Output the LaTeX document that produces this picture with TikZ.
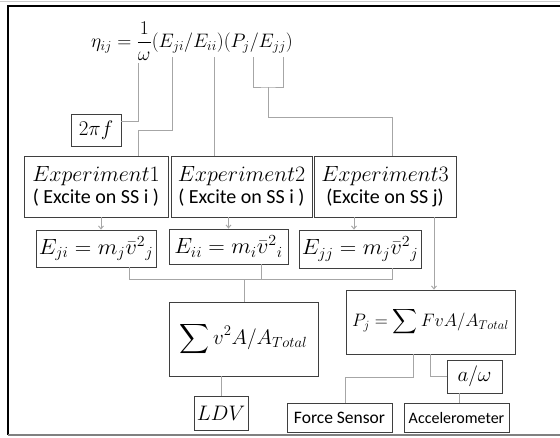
\RequirePackage{fix-cm}
\documentclass[tikz,border=0pt]{standalone}
\usepackage{exscale}
\usepackage{fontspec}
\setmainfont{Carlito}
\usetikzlibrary{arrows.meta,calc}
\definecolor{boxc}{HTML}{3F3F3F}
\definecolor{linec}{HTML}{A6A6A6}
\tikzset{
  bx/.style={draw=boxc,line width=0.9pt,inner sep=0pt,align=center,font=\fontsize{20}{23}\selectfont},
  conn/.style={draw=linec,line width=0.9pt},
  arr/.style={conn,-{Straight Barb[length=3pt,width=5pt]}}
}
\newcommand{\ExpL}[1]{{\fontsize{22}{25}\selectfont$Experiment#1$}}
\newcommand{\WideM}[1]{\scalebox{1.04}[1]{\fontsize{22}{25}\selectfont$#1$}}
\begin{document}
\begin{tikzpicture}[x=1pt,y=-1pt]
\useasboundingbox (0,0) rectangle (560,437);
% frame
\draw[linec!60,line width=0.8pt] (0,1.5) -- (560,1.5);
\draw[black,line width=2.5pt] (8,435) -- (8,6) -- (560,6);
\draw[gray,line width=1.2pt] (8,435) -- (560,435);
% equation
\node[font=\fontsize{19.5}{23}\selectfont,inner sep=0pt] (eq) at (192,41) {$\displaystyle \eta_{ij}=\frac{1}{\omega}(E_{ji}/E_{ii})(P_j/E_{jj})$};
\coordinate (cOm) at (138,63);
\coordinate (cEji) at (172,57);
\coordinate (cEii) at (214,57);
\coordinate (cPj) at (253,57);
\coordinate (cEjj) at (283,57);
\coordinate (pjmid) at (268,87);
\coordinate (bus) at (244,279);
% boxes
\node[bx,minimum width=50pt,minimum height=32pt,font=\fontsize{21}{24}\selectfont] (twopif) at (96,130) {$2\pi f$};
\node[bx,minimum width=144pt,minimum height=61pt] (exp1) at (96,186.5) {\ExpL{1}\\[-1pt]( Excite on SS i )};
\node[bx,minimum width=141pt,minimum height=61pt] (exp2) at (241.5,186.5) {\ExpL{2}\\[-1pt]( Excite on SS i )};
\node[bx,minimum width=142pt,minimum height=61pt] (exp3) at (385,186.5) {\ExpL{3}\\[-1pt](Excite on SS j)};
\node[bx,minimum width=120pt,minimum height=37pt] (eji) at (96,248.5) {\WideM{E_{ji}=m_j\bar{v}^2{}_j}};
\node[bx,minimum width=119pt,minimum height=35pt] (eii) at (228.5,246.5) {\WideM{E_{ii}=m_i\bar{v}^2{}_i}};
\node[bx,minimum width=122pt,minimum height=38pt] (ejj) at (360,249) {\WideM{E_{jj}=m_j\bar{v}^2{}_j}};
\node[bx,minimum width=149pt,minimum height=74pt,font=\fontsize{21}{24}\selectfont] (sum) at (243.5,339) {$\displaystyle\sum v^2A/A_{Total}$};
\node[bx,minimum width=169pt,minimum height=64pt,font=\fontsize{18}{21}\selectfont] (pj) at (430.5,322) {$\displaystyle P_j=\sum FvA/A_{Total}$};
\node[bx,minimum width=55pt,minimum height=33pt,font=\fontsize{21}{24}\selectfont] (aw) at (474.5,376.5) {$a/\omega$};
\node[bx,minimum width=54pt,minimum height=34pt,font=\fontsize{21}{24}\selectfont] (ldv) at (221,413) {$LDV$};
\node[bx,minimum width=105pt,minimum height=29pt,font=\fontsize{17.5}{20}\selectfont] (force) at (339.5,417.5) {Force Sensor};
\node[bx,minimum width=105pt,minimum height=29pt,font=\fontsize{16}{19}\selectfont] (accel) at (456.5,417.5) {Accelerometer};
% connectors from equation
\draw[conn] (cOm) |- ([yshift=9pt]twopif.east);
\draw[conn] (cEji) -- ++(0,73) -| ([xshift=42pt]exp1.north);
\draw[conn] (cEii) -- (cEii |- exp2.north);
\draw[conn] (cPj) |- (pjmid) -| (cEjj);
\draw[conn] (pjmid) -- ++(0,30) -| ([xshift=7pt]exp3.north);
% arrows from experiments
\draw[arr] ([xshift=5pt]exp1.south) -- ([xshift=5pt]exp1.south |- eji.north);
\draw[arr] (eii.north |- exp2.south) -- (eii.north);
\draw[arr] ([xshift=-6pt]ejj.north |- exp3.south) -- ([xshift=-6pt]ejj.north);
\draw[arr] ([xshift=3.5pt]pj.north |- exp3.south) -- ([xshift=3.5pt]pj.north);
% bus to sum
\draw[conn] ([xshift=33pt]eji.south) -- ++(0,12) -| ([xshift=32pt]ejj.south);
\draw[conn] ([xshift=32.5pt]eii.south) -- ([xshift=32.5pt]eii.south |- bus);
\draw[conn] (bus) -- (bus |- sum.north);
\draw[conn] (ldv.north |- sum.south) -- (ldv.north);
% P_j to sensors
\draw[conn] ([xshift=-17.5pt]pj.south) -- ++(0,23) -| ([xshift=5.5pt]force.north);
\draw[conn] (pj.south) |- (aw.west);
\draw[conn] ([xshift=-15.5pt]aw.south) -- ([xshift=-15.5pt]aw.south |- accel.north);
\end{tikzpicture}
\end{document}
